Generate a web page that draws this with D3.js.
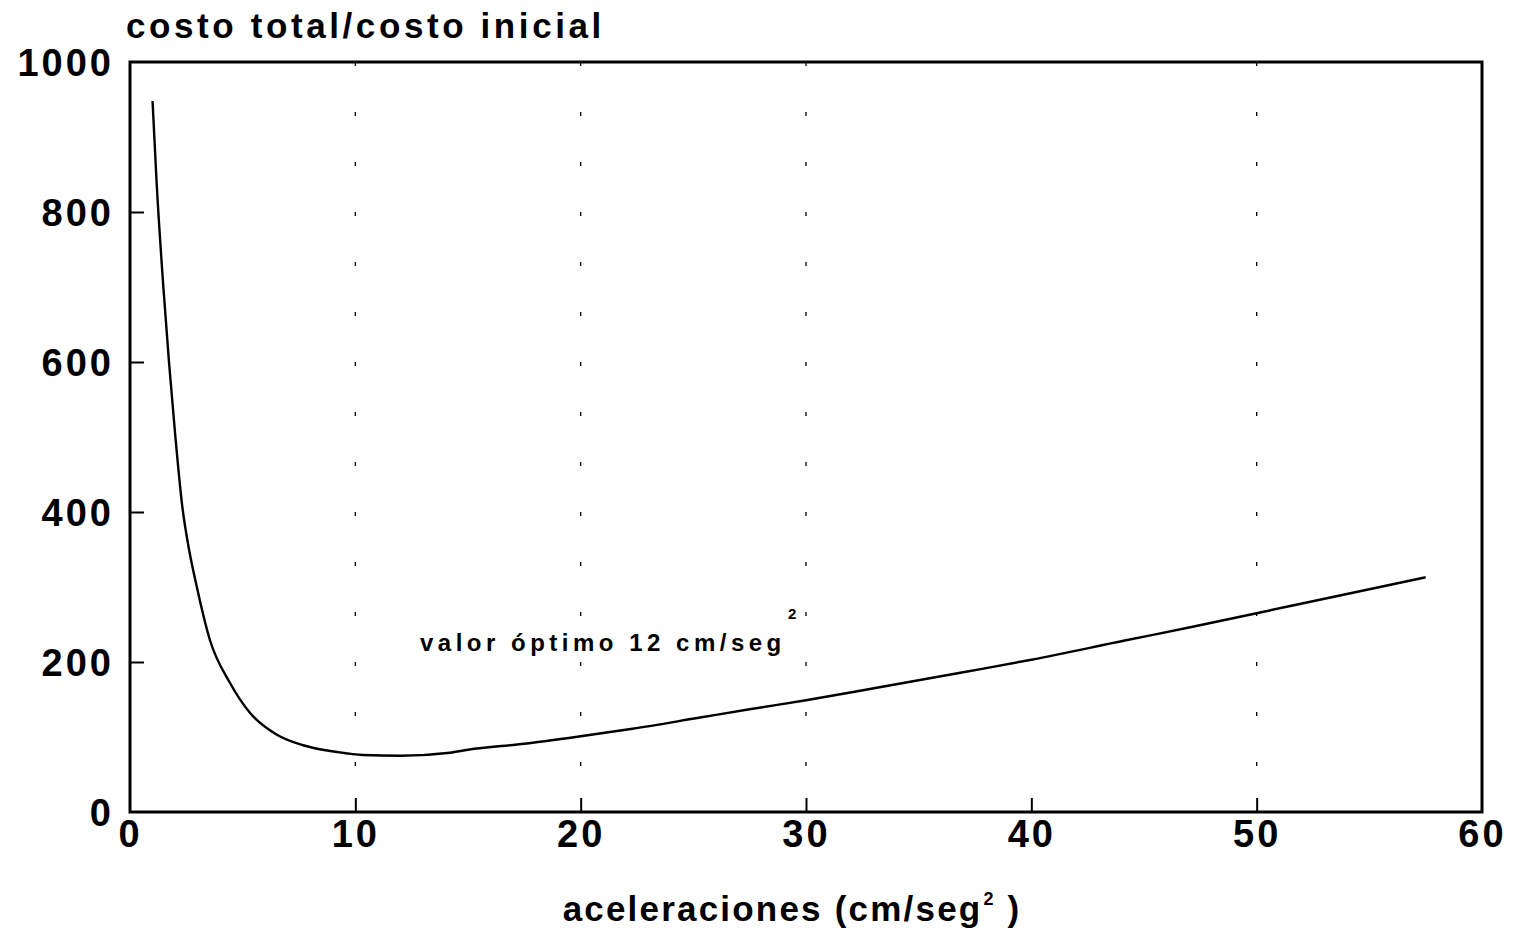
<!DOCTYPE html>
<html>
<head>
<meta charset="utf-8">
<script src="https://cdn.jsdelivr.net/npm/d3@7"></script>
<style>
  html, body { margin: 0; padding: 0; background: #fff; }
  svg { display: block; }
  text { font-family: "Liberation Sans", Arial, sans-serif; font-weight: bold; fill: #000; }
</style>
</head>
<body>
<svg id="chart" width="1525" height="931"></svg>
<script>
// ---- data ----
const accel = [1.0, 1.18, 1.48, 1.73, 2.0, 2.31, 2.62, 2.93, 3.55, 4.44, 5.33, 6.52, 7.68, 9.19, 10.34, 12, 14.2, 15, 17.5, 20, 22.3, 25.3, 27.5, 30, 33.2, 37.1, 40, 44.2, 47, 51.7, 55, 57.5];
const costRatio = [948, 840, 700, 600, 505, 410, 350, 305, 229, 172, 132, 103, 89, 80, 76, 75, 79, 83, 91, 101, 111, 126, 137, 149, 166, 187, 203, 229, 246, 276, 297, 313];
const xTicks = [0, 10, 20, 30, 40, 50, 60];
const yTicks = [0, 200, 400, 600, 800, 1000];
const gridX = [10, 20, 30, 50];
const yTitle = "costo total/costo inicial";
const xTitle = "aceleraciones (cm/seg";
const note = "valor óptimo 12 cm/seg";

const svg = d3.select("#chart");
const m = { left: 130, right: 1482, top: 62, bottom: 812 };
const x = d3.scaleLinear().domain([0, 60]).range([m.left, m.right]);
const y = d3.scaleLinear().domain([0, 1000]).range([m.bottom, m.top]);

// sparse dotted grid (as in the scanned original)
svg.append("g").selectAll("line").data(gridX).join("line")
  .attr("x1", d => x(d)).attr("x2", d => x(d))
  .attr("y1", y(1000)).attr("y2", y(0))
  .attr("stroke", "#000").attr("stroke-width", 1.3)
  .attr("stroke-dasharray", "4,46");

// axes with inward ticks
const xAxis = d3.axisBottom(x).tickValues(xTicks).tickSize(-14).tickPadding(12).tickFormat(d3.format("d"));
const yAxis = d3.axisLeft(y).tickValues(yTicks).tickSize(-14).tickPadding(16).tickFormat(d3.format("d"));

const gx = svg.append("g").attr("transform", `translate(0,${m.bottom})`).call(xAxis);
const gy = svg.append("g").attr("transform", `translate(${m.left},0)`).call(yAxis);
[gx, gy].forEach(g => {
  g.select(".domain").remove();
  g.selectAll(".tick line").attr("stroke", "#000").attr("stroke-width", 2);
  g.selectAll(".tick text").attr("font-size", 38).attr("letter-spacing", 3)
    .attr("font-family", "'Liberation Sans', Arial, sans-serif").attr("font-weight", "bold").attr("fill", "#000");
});
gx.selectAll(".tick text").attr("dy", "0.6em");
gy.selectAll(".tick text").attr("dy", "0.36em");
gx.selectAll(".tick").filter(d => d === 0 || d === 60).select("line").remove();
gy.selectAll(".tick").filter(d => d === 0 || d === 1000).select("line").remove();

// frame
svg.append("rect")
  .attr("x", x(0)).attr("y", y(1000))
  .attr("width", x(60) - x(0)).attr("height", y(0) - y(1000))
  .attr("fill", "none").attr("stroke", "#000").attr("stroke-width", 3);

// curve
const pts = accel.map((a, i) => [a, costRatio[i]]);
svg.append("path").datum(pts)
  .attr("fill", "none").attr("stroke", "#000").attr("stroke-width", 2.4)
  .attr("stroke-linejoin", "round")
  .attr("d", d3.line().curve(d3.curveMonotoneX).x(d => x(d[0])).y(d => y(d[1])));

// y title
svg.append("text").attr("x", 126).attr("y", 38)
  .attr("font-size", 35).attr("letter-spacing", 3.6).text(yTitle);

// x title
const xt = svg.append("text").attr("x", 792).attr("y", 921)
  .attr("text-anchor", "middle").attr("font-size", 35).attr("letter-spacing", 2.2);
xt.append("tspan").text(xTitle);
xt.append("tspan").attr("font-size", 18).attr("dx", 1).attr("dy", -16).text("2");
xt.append("tspan").attr("dy", 16).text(" )");

// annotation
svg.append("text").attr("x", 420).attr("y", 651)
  .attr("font-size", 24).attr("letter-spacing", 4.5).text(note);
svg.append("text").attr("x", 788).attr("y", 619)
  .attr("font-size", 15).text("2");
</script>
</body>
</html>
